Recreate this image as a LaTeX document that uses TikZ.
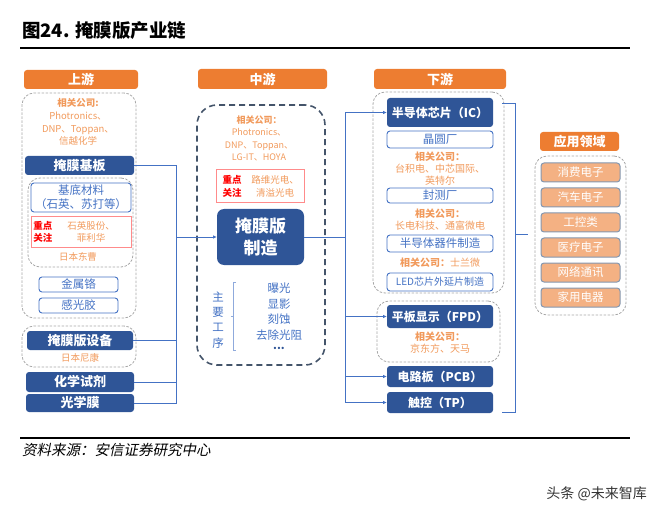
\documentclass[tikz,border=0pt]{standalone}
\usepackage{fontspec}
\setmainfont{Noto Sans CJK SC}
\newfontfamily\srcfont{Noto Sans CJK SC}[FakeSlant=0.2]
\usetikzlibrary{arrows.meta}
\definecolor{dkblue}{HTML}{2F5597}
\definecolor{orng}{HTML}{ED7D31}
\definecolor{ltblue}{HTML}{4472C4}
\definecolor{comp}{HTML}{F19A5C}
\definecolor{appfill}{HTML}{F4B183}
\definecolor{appline}{HTML}{8497B0}
\definecolor{redline}{HTML}{FF8B8B}
\definecolor{midgray}{HTML}{44546A}
\definecolor{dgray}{HTML}{A6A6A6}
\definecolor{brk}{HTML}{8FAADC}
\newcommand\fs[2]{\fontsize{#1}{#2}\selectfont}
\newcommand\rb[6]{\node[#1, minimum width={(#4-#2)*1pt}, minimum height={(#5-#3)*1pt}] (#6) at ({(#2+#4)/2},{(#3+#5)/2})}
\tikzset{
  head/.style={fill=orng, rounded corners=3pt, text=white, font=\fs{13}{15}\bfseries, inner sep=0, outer sep=0},
  dbox/.style={fill=dkblue, rounded corners=3pt, text=white, font=\fs{13}{15}\bfseries, inner sep=0, outer sep=0, align=center},
  obox/.style={draw=ltblue, line width=0.9pt, fill=white, rounded corners=3pt, text=ltblue, font=\fs{11.5}{14}, inner sep=0, outer sep=0, align=center},
  lcont/.style={draw=dgray, dash pattern=on 2.5pt off 1.5pt, line width=0.8pt, rounded corners=12pt, inner sep=0},
  mcont/.style={draw=midgray, dash pattern=on 6pt off 4pt, line width=1.6pt, rounded corners=20pt, inner sep=0},
  redbox/.style={draw=redline, line width=0.8pt, inner sep=0},
  comptext/.style={text=comp, font=\fs{9.5}{12.7}, align=center, inner sep=0},
  redtext/.style={text=red, font=\fs{9.5}{12.5}\bfseries, align=center, inner sep=0},
  app/.style={fill=appfill, draw=appline, line width=1pt, rounded corners=3pt, text=white, font=\fs{11.5}{14}, inner sep=0, outer sep=0},
  conn/.style={draw=ltblue, line width=0.8pt},
  arr/.style={conn, -{Latex[length=4pt,width=3.5pt]}},
}
\begin{document}
\begin{tikzpicture}[x=1pt,y=-1pt]
\useasboundingbox (0,0) rectangle (662,516);
% title and rules
\node[anchor=base west, font=\fs{18.5}{20}\bfseries, inner sep=0] (title) at (22,38) {图24. 掩膜版产业链};
\draw[line width=2pt] (20,48.5) -- (630,48.5);
\draw[line width=2pt] (20,437.5) -- (630,437.5);
\node[anchor=base west, font=\srcfont\fs{14.5}{16}, inner sep=0] (src) at (22,455) {资料来源：安信证券研究中心};
\node[anchor=base east, font=\fs{14}{16}, text=black!80, inner sep=0] (wm) at (647,498) {头条 @未来智库};

% containers
\rb{lcont}{22}{93}{136}{318}{lc1} {};
\rb{lcont}{28}{178}{133}{267}{lc2} {};
\rb{lcont}{22}{326}{136}{367}{lc3} {};
\rb{mcont}{197}{105}{325}{365}{mc} {};
\rb{lcont}{373}{92}{504}{293}{rc1} {};
\rb{lcont}{377}{301}{500}{362}{rc2} {};
\rb{lcont}{535}{156}{626}{315}{ac} {};

% connectors
\coordinate (L) at (176,0);
\coordinate (R) at (345,0);
\coordinate (b1) at (502,103);
\coordinate (b2) at (515,103);
\coordinate (b3) at (515,412);
\coordinate (b4) at (502,412);
\coordinate (b5) at (528,234);

% left column
\rb{head}{24}{70}{138}{89}{sy} {上游};
\node[comptext] (lcomp) at (78,122) {\textbf{相关公司:}\\Photronics、\\DNP、Toppan、\\信越化学};
\rb{dbox}{25}{156}{134}{175}{jmjb} {掩膜基板};
\rb{obox}{31}{183}{131}{212}{jdcl} {基底材料\\（石英、苏打等）};
\rb{redbox}{31}{216}{131}{247}{lred} {};
\node[redtext] (lzd) at (43,232) {重点\\关注};
\node[comptext, font=\fs{9.5}{12.5}] (lzc) at (91,232) {石英股份、\\菲利华};
\node[comptext] (ldc) at (78,257) {日本东曹};
\rb{obox}{39}{277}{118}{292}{jsg} {金属铬};
\rb{obox}{39}{298}{118}{313}{ggj} {感光胶};
\rb{dbox}{27}{331}{133}{350}{sb} {掩膜版设备};
\node[comptext] (lnk) at (80,357.5) {日本尼康};
\rb{dbox}{26}{372}{134}{392}{hxsj} {化学试剂};
\rb{dbox}{26}{394}{134}{412}{gxm} {光学膜};

% middle column
\rb{head}{198}{69}{327}{89}{zy} {中游};
\node[comptext, font=\fs{9}{12.3}] (mcomp) at (259,138.5) {\textbf{相关公司：}\\Photronics、\\DNP、Toppan、\\LG-IT、HOYA};
\rb{redbox}{216}{169}{304}{202}{mred} {};
\node[redtext] (mzd) at (232,186.5) {重点\\关注};
\node[comptext, font=\fs{9.5}{12.5}] (mzc) at (275,186.5) {路维光电、\\清溢光电};
\rb{dbox, rounded corners=7pt, font=\fs{17}{22}\bfseries}{217}{209}{304}{265}{zz} {掩膜版\\制造};
\node[text=ltblue, font=\fs{11.5}{15.3}, align=center, inner sep=0] (gx) at (218,320) {主\\要\\工\\序};
\draw[brk, line width=0.7pt] (236,282) -- (233,282) -- (233,350) -- (236,350);
\draw[brk, line width=0.7pt] (233,316) -- (230.5,316);
\node[text=ltblue, font=\fs{11.5}{15.7}, align=center, inner sep=0] (steps) at (279,311.5) {曝光\\显影\\刻蚀\\去除光阻};
\node[text=dkblue, font=\fs{11}{12}\bfseries, inner sep=0] (dots) at (279,348) {...};

% right column
\rb{head}{374}{69}{506}{89}{xy} {下游};
\rb{dbox, font=\fs{12}{14}\bfseries}{387}{98}{493}{127}{ic} {半导体芯片（IC）};
\rb{obox}{387}{131}{493}{148}{jyc} {晶圆厂};
\node[comptext, font=\fs{10}{12}] (icc) at (440,169) {\textbf{相关公司：}\\台积电、中芯国际、\\英特尔};
\rb{obox}{387}{188}{493}{203}{fcc} {封测厂};
\node[comptext, font=\fs{10}{12.5}] (fcz) at (440,219.5) {\textbf{相关公司：}\\长电科技、通富微电};
\rb{obox}{387}{235}{493}{252}{bdt} {半导体器件制造};
\node[comptext, font=\fs{10}{12}] (bdc) at (440,263) {\textbf{相关公司：}士兰微};
\rb{obox, font=\fs{10}{12}}{387}{273}{493}{291}{led} {LED芯片外延片制造};
\rb{dbox, font=\fs{12}{14}\bfseries}{387}{305}{493}{328}{fpd} {平板显示（FPD）};
\node[comptext, font=\fs{10}{11.5}] (fpdc) at (440,342.5) {\textbf{相关公司：}\\京东方、天马};
\rb{dbox, font=\fs{12}{14}\bfseries}{387}{366}{493}{387}{pcb} {电路板（PCB）};
\rb{dbox, font=\fs{12}{14}\bfseries}{387}{392}{493}{413}{tp} {触控（TP）};

% application
\rb{head}{540}{132}{619}{151}{yy} {应用领域};
\rb{app}{541}{163}{620}{182}{a1} {消费电子};
\rb{app}{541}{188}{620}{207}{a2} {汽车电子};
\rb{app}{541}{213}{620}{232}{a3} {工控类};
\rb{app}{541}{238}{620}{257}{a4} {医疗电子};
\rb{app}{541}{263}{620}{282}{a5} {网络通讯};
\rb{app}{541}{288}{620}{307}{a6} {家用电器};

% connectors drawn
\draw[conn] (jmjb.east) -- (jmjb.east -| L) -- (gxm.east -| L) -- (gxm.east);
\draw[conn] (sb.east) -- (sb.east -| L);
\draw[conn] (hxsj.east) -- (hxsj.east -| L);
\draw[arr] (zz.west -| L) -- (zz.west);
\draw[conn] (zz.east) -- (zz.east -| R);
\draw[conn] (ic.west -| R) -- (tp.west -| R);
\draw[arr] (ic.west -| R) -- (ic.west);
\draw[arr] (fpd.west -| R) -- (fpd.west);
\draw[arr] (pcb.west -| R) -- (pcb.west);
\draw[arr] (tp.west -| R) -- (tp.west);
\draw[conn] (b1) -- (b2) -- (b3) -- (b4);
\draw[conn] (b2 |- b5) -- (b5);
\end{tikzpicture}
\end{document}
